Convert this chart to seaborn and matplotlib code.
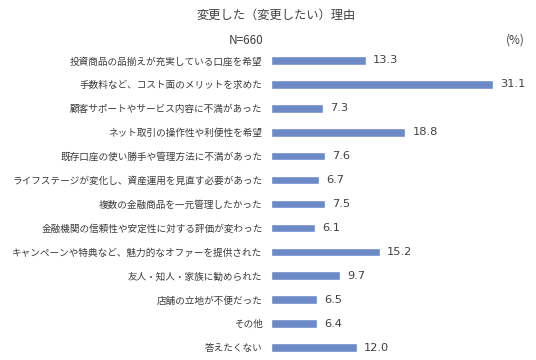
import matplotlib
matplotlib.use("Agg")
import matplotlib.pyplot as plt
import seaborn as sns
import pandas as pd

categories = [
    "投資商品の品揃えが充実している口座を希望",
    "手数料など、コスト面のメリットを求めた",
    "顧客サポートやサービス内容に不満があった",
    "ネット取引の操作性や利便性を希望",
    "既存口座の使い勝手や管理方法に不満があった",
    "ライフステージが変化し、資産運用を見直す必要があった",
    "複数の金融商品を一元管理したかった",
    "金融機関の信頼性や安定性に対する評価が変わった",
    "キャンペーンや特典など、魅力的なオファーを提供された",
    "友人・知人・家族に勧められた",
    "店舗の立地が不便だった",
    "その他",
    "答えたくない",
]
values = [13.3, 31.1, 7.3, 18.8, 7.6, 6.7, 7.5, 6.1, 15.2, 9.7, 6.5, 6.4, 12.0]

sns.set_theme(style="white")
plt.rcParams["font.family"] = ["Noto Sans CJK JP", "DejaVu Sans"]

df = pd.DataFrame({"cat": categories, "val": values})

fig = plt.figure(figsize=(5.36, 3.6), dpi=100)
ax = fig.add_axes([271/536, 1 - 359.5/360, (526 - 271)/536, (359.5 - 48.5)/360])
sns.barplot(data=df, y="cat", x="val", color="#6B8AC6", saturation=1,
            width=0.36, ax=ax, orient="h")
ax.set_xlim(0, 255/7.15)
ax.set_ylim(12.5, -0.5)
ax.set_xlabel("")
ax.set_ylabel("")
ax.set_xticks([])
ax.tick_params(axis="y", length=0, pad=6.0, labelsize=6.9, labelcolor="#3a3a3a")
for s in ax.spines.values():
    s.set_visible(False)
for i, v in enumerate(values):
    ax.text(v + 1.0, i, f"{v:.1f}", va="center", ha="left", fontsize=8.2,
            color="#404040", family=["DejaVu Sans"])

fig.text(276/536, 1 - 15/360, "変更した（変更したい）理由", ha="center", va="center",
         fontsize=8.8, color="#404040")
fig.text(246/536, 1 - 40/360, "N=660", ha="center", va="center", fontsize=8.5,
         color="#404040")
fig.text(515/536, 1 - 40/360, "(%)", ha="center", va="center", fontsize=8.5,
         color="#404040")

fig.savefig("out.png", dpi=100)
